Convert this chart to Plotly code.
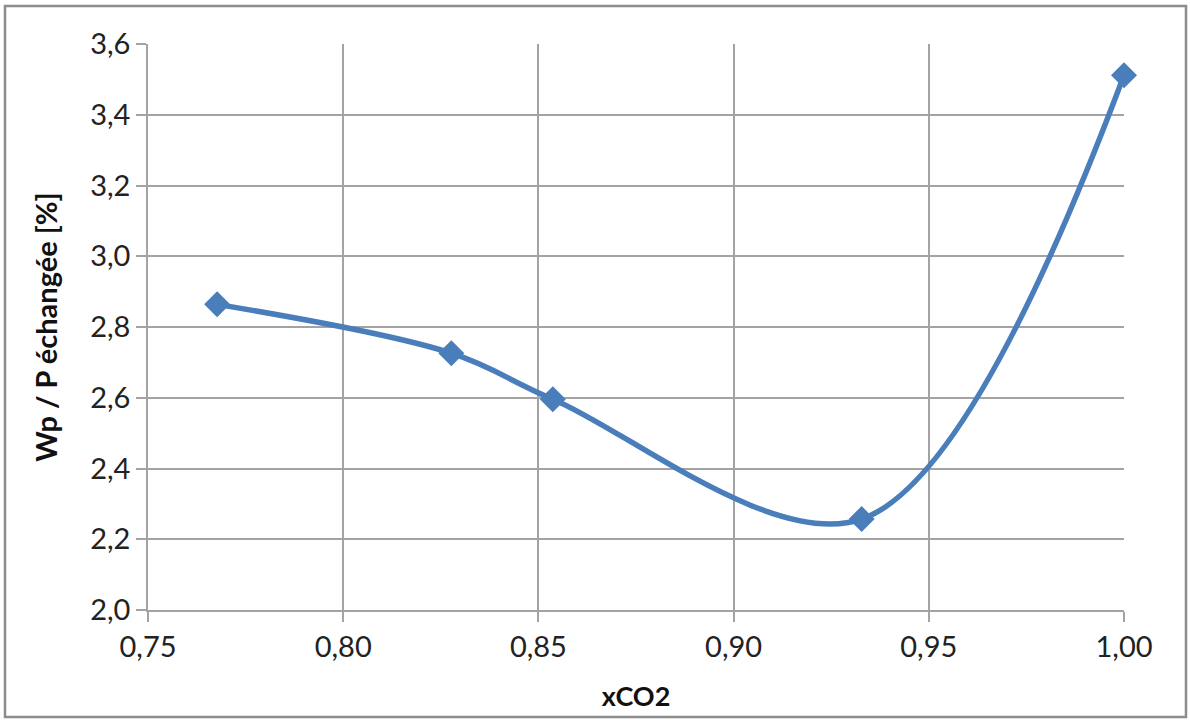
import plotly.graph_objects as go

x_co2 = [0.7677, 0.8277, 0.8537, 0.9328, 1.0]
wp_ratio = [2.864, 2.726, 2.596, 2.257, 3.512]

x_ticks = [0.75, 0.80, 0.85, 0.90, 0.95, 1.00]
x_tick_labels = ["0,75", "0,80", "0,85", "0,90", "0,95", "1,00"]
y_ticks = [2.0, 2.2, 2.4, 2.6, 2.8, 3.0, 3.2, 3.4, 3.6]
y_tick_labels = ["2,0", "2,2", "2,4", "2,6", "2,8", "3,0", "3,2", "3,4", "3,6"]

FONT = "Lato"
GRID = "#a3a3a3"
BLUE = "#4a7ebb"

fig = go.Figure()
fig.add_trace(go.Scatter(
    x=x_co2, y=wp_ratio, mode="lines+markers",
    line=dict(color=BLUE, width=5.5, shape="spline", smoothing=1.0),
    marker=dict(symbol="diamond", size=20, color=BLUE),
    cliponaxis=False,
    showlegend=False,
))

W, H = 1190, 720
L, T = 148, 44
R = W - 1124
B = H - 610
pw, ph = W - L - R, H - T - B

fig.update_layout(
    width=W, height=H,
    margin=dict(l=L, r=R, t=T, b=B),
    paper_bgcolor="white", plot_bgcolor="white",
    font=dict(family=FONT, size=29, color="#222222"),
    xaxis=dict(
        range=[0.75, 1.0], tickvals=x_ticks, ticktext=x_tick_labels,
        showgrid=True, gridcolor=GRID, gridwidth=1.5,
        showline=True, linecolor=GRID, linewidth=1.5,
        ticks="outside", ticklen=10, tickcolor=GRID, tickwidth=1.5,
        zeroline=False,
        title=dict(text="<b>xCO2</b>", font=dict(family=FONT, size=27, color="#111111"), standoff=26),
    ),
    yaxis=dict(
        range=[2.0, 3.6], tickvals=y_ticks, ticktext=y_tick_labels,
        showgrid=True, gridcolor=GRID, gridwidth=1.5,
        showline=True, linecolor=GRID, linewidth=1.5,
        ticks="outside", ticklen=10, tickcolor=GRID, tickwidth=1.5,
        zeroline=False,
        title=dict(text="<b>Wp / P échangée [%]</b>", font=dict(family=FONT, size=29, color="#111111"), standoff=24),
    ),
)

# outer chart border (screen x 5..1186, y 6..717)
fig.add_shape(
    type="rect", xref="paper", yref="paper",
    x0=(5 - L) / pw, x1=(1186 - L) / pw,
    y0=(H - B - 717) / ph, y1=(H - B - 6) / ph,
    line=dict(color="#8c8c8c", width=2.5), fillcolor="rgba(0,0,0,0)", layer="below",
)

fig.write_html(
    "out.html",
    config={"displayModeBar": False},
    post_script="document.body.style.margin='0px';document.body.style.overflow='hidden';",
)
